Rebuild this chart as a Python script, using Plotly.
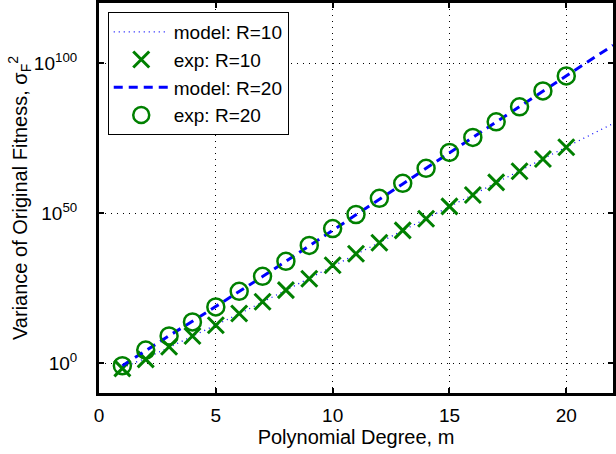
import plotly.graph_objects as go

# ---- data (log10 of variance) ----
m_exp = list(range(1, 21))
exp_r10_log10 = [-1.8, 1.2, 5.4, 9.0, 12.6, 16.5, 20.4, 24.3, 28.1, 32.6,
                 36.4, 40.1, 44.2, 48.1, 52.2, 56.0, 60.2, 63.9, 68.0, 71.9]
exp_r20_log10 = [-0.9, 4.3, 9.0, 13.7, 18.7, 23.9, 28.9, 33.9, 39.2, 44.8,
                 49.5, 54.9, 59.9, 64.9, 70.2, 75.2, 80.4, 85.4, 90.7, 95.7]

m_model = list(range(1, 23))
model_r10_log10 = [-1.6, 1.6, 5.2, 8.9, 12.6, 16.4, 20.3, 24.2, 28.2, 32.2,
                   36.2, 40.2, 44.2, 48.1, 52.1, 56.1, 60.1, 64.0, 68.0, 72.0,
                   75.9, 79.8]
model_r20_log10 = [-0.9, 4.2, 9.1, 13.9, 18.8, 23.8, 28.8, 33.9, 39.0, 44.1,
                   49.3, 54.5, 59.7, 64.9, 70.1, 75.3, 80.4, 85.5, 90.6, 95.7,
                   100.8, 105.9]

x_ticks = [0, 5, 10, 15, 20]
y_tick_vals = [1, 1e50, 1e100]
y_tick_text = ["10<sup>0</sup>", "10<sup>50</sup>", "10<sup>100</sup>"]

def pw(v):
    return [10 ** e for e in v]

BLUE = "#0000ff"
GREEN = "#008000"
FONT = "Liberation Sans, Arial, Helvetica, sans-serif"

fig = go.Figure()
fig.add_trace(go.Scatter(x=m_model, y=pw(model_r10_log10), mode="lines",
                         name="model: R=10",
                         line=dict(color=BLUE, width=1.3, dash="1px,4px")))
fig.add_trace(go.Scatter(x=m_exp, y=pw(exp_r10_log10), mode="markers",
                         name="exp: R=10",
                         marker=dict(symbol="x-thin", size=16, color=GREEN,
                                     line=dict(color=GREEN, width=3))))
fig.add_trace(go.Scatter(x=m_model, y=pw(model_r20_log10), mode="lines",
                         name="model: R=20",
                         line=dict(color=BLUE, width=3, dash="9px,6px")))
fig.add_trace(go.Scatter(x=m_exp, y=pw(exp_r20_log10), mode="markers",
                         name="exp: R=20",
                         marker=dict(symbol="circle-open", size=17, color=GREEN,
                                     line=dict(color=GREEN, width=2.5))))

fig.update_layout(
    width=616, height=454,
    margin=dict(l=99, r=0, t=2, b=61),
    paper_bgcolor="white", plot_bgcolor="white",
    font=dict(family=FONT, size=16, color="black"),
    showlegend=True,
    legend=dict(x=0.017, y=0.977, xanchor="left", yanchor="top",
                bgcolor="white", bordercolor="black", borderwidth=1,
                font=dict(family=FONT, size=19), tracegroupgap=0,
                itemwidth=55),
)
fig.update_xaxes(
    range=[0, 22], tickvals=x_ticks, ticks="inside", ticklen=5, tickwidth=2,
    tickcolor="black", showline=True, linewidth=3, linecolor="black",
    mirror="ticks", showgrid=True, gridcolor="black", gridwidth=1,
    griddash="1px,5px", zeroline=False, ticklabelstandoff=3,
    tickfont=dict(family=FONT, size=19),
    title=dict(text="Polynomial Degree, m", standoff=3,
               font=dict(family=FONT, size=20)),
)
fig.update_yaxes(
    type="log", range=[-10, 120], tickvals=y_tick_vals, ticktext=y_tick_text,
    ticks="inside", ticklen=5, tickwidth=2, tickcolor="black",
    showline=True, linewidth=3, linecolor="black", mirror="ticks",
    showgrid=True, gridcolor="black", gridwidth=1, griddash="1px,5px",
    zeroline=False, ticklabelstandoff=15,
    tickfont=dict(family=FONT, size=19),
    title=dict(text="Variance of Original Fitness, σ<sub>F</sub><sup>2</sup>",
               standoff=1, font=dict(family=FONT, size=20)),
)

fig.write_html("out.html")
